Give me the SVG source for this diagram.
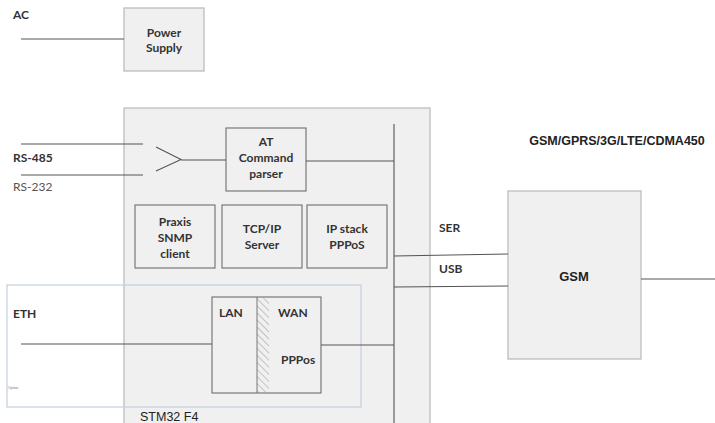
<svg xmlns="http://www.w3.org/2000/svg" width="715" height="423" viewBox="0 0 715 423">
<defs>
<style>
.box{fill:#f0f0f0;stroke:#bdbdbd;stroke-width:1.3}
.inner{fill:#f0f0f0;stroke:#6e6e6e;stroke-width:1.1}
.ln{stroke:#555;stroke-width:1.1;fill:none}
.lnl{stroke:#777;stroke-width:1;fill:none}
.lb{font-family:Lato,"Liberation Sans",sans-serif;font-weight:bold;font-size:12px;fill:#333}
.lbc{font-family:Lato,"Liberation Sans",sans-serif;font-weight:bold;font-size:12px;fill:#333;text-anchor:middle}
.ar{font-family:"Liberation Sans",Arial,sans-serif;fill:#222}
</style>
<pattern id="hatch" patternUnits="userSpaceOnUse" width="5" height="5" patternTransform="rotate(-45)">
<line x1="0" y1="0" x2="0" y2="5" stroke="#8a8a8a" stroke-width="0.9"/>
</pattern>
</defs>
<rect width="715" height="423" fill="#ffffff"/>

<g id="ac">
<text class="lb" x="13" y="19">AC</text>
</g>

<g id="power-supply">
<rect class="box" x="124" y="8" width="80" height="63"/>
<text class="lbc" x="164" y="37">Power</text>
<text class="lbc" x="164" y="52">Supply</text>
</g>

<g id="stm32">
<rect class="box" x="124" y="108" width="306" height="330"/>
<text class="ar" x="140" y="421" font-size="12.5">STM32 F4</text>
</g>

<g id="eth-option">
<rect x="7" y="285" width="354" height="122" fill="none" stroke="#c3cfdc" stroke-width="1.2"/>
<text class="lb" x="13" y="318">ETH</text>
<text x="8" y="389" font-family="Liberation Sans,sans-serif" font-size="3.5" fill="#777">Option</text>
</g>

<g id="rs">
<text class="lb" x="13" y="162">RS-485</text>
<text x="13" y="191" font-family="Lato,'Liberation Sans',sans-serif" font-size="12" fill="#555">RS-232</text>
</g>

<g id="at-parser">
<rect class="inner" x="226" y="128" width="80" height="63"/>
<text class="lbc" x="266" y="146">AT</text>
<text class="lbc" x="266" y="162">Command</text>
<text class="lbc" x="266" y="178">parser</text>
</g>

<g id="praxis">
<rect class="inner" x="135" y="205" width="80" height="63"/>
<text class="lbc" x="175" y="226">Praxis</text>
<text class="lbc" x="175" y="242">SNMP</text>
<text class="lbc" x="175" y="258">client</text>
</g>

<g id="tcpip">
<rect class="inner" x="222" y="205" width="80" height="63"/>
<text class="lbc" x="262" y="233">TCP/IP</text>
<text class="lbc" x="262" y="249">Server</text>
</g>

<g id="ipstack">
<rect class="inner" x="307" y="205" width="80" height="63"/>
<text class="lbc" x="347" y="233">IP stack</text>
<text class="lbc" x="347" y="249">PPPoS</text>
</g>

<g id="lanwan">
<rect class="inner" x="212" y="297" width="109" height="96"/>
<rect x="257" y="297.5" width="12" height="95" fill="url(#hatch)"/>
<line class="lnl" x1="257" y1="297" x2="257" y2="393"/>
<text class="lb" x="219" y="317">LAN</text>
<text class="lb" x="278" y="317">WAN</text>
<text class="lb" x="281" y="364">PPPos</text>
</g>

<g id="gsm">
<rect class="box" x="508" y="191" width="133" height="168"/>
<text class="ar" x="574" y="281" font-size="13" font-weight="bold" text-anchor="middle">GSM</text>
<text class="ar" x="617" y="145" font-size="12.5" font-weight="bold" text-anchor="middle">GSM/GPRS/3G/LTE/CDMA450</text>
<text class="lb" x="439" y="232">SER</text>
<text class="lb" x="439" y="273">USB</text>
</g>

<g id="connectors">
<line class="ln" x1="21" y1="39" x2="124" y2="39"/>
<line class="ln" x1="21" y1="144" x2="143" y2="144"/>
<line class="ln" x1="21" y1="175" x2="143" y2="175"/>
<polyline class="ln" points="156,147 181,159.5 156,171"/>
<line class="ln" x1="181" y1="160" x2="226" y2="160"/>
<line class="ln" x1="306" y1="161" x2="394" y2="161"/>
<line class="ln" x1="394" y1="124" x2="394" y2="423"/>
<line class="ln" x1="394" y1="256" x2="508" y2="254"/>
<line class="ln" x1="394" y1="287" x2="508" y2="286"/>
<line class="ln" x1="641" y1="279" x2="715" y2="279"/>
<line class="ln" x1="21" y1="344" x2="212" y2="344"/>
<line class="ln" x1="321" y1="345" x2="394" y2="345"/>
</g>
</svg>
